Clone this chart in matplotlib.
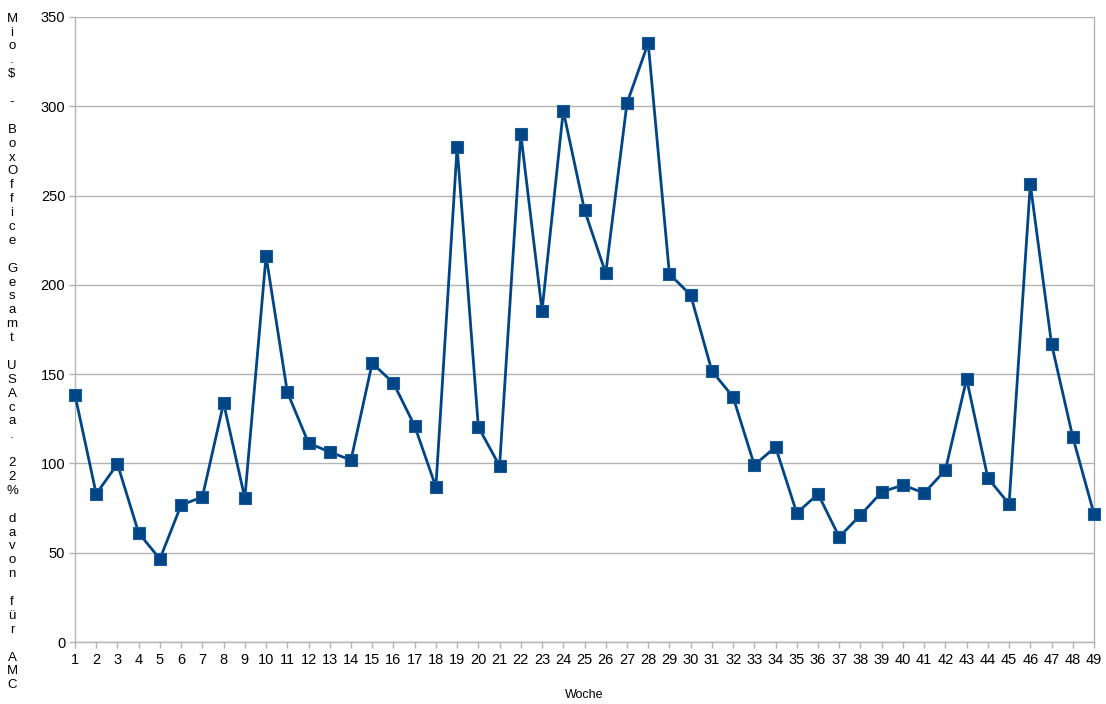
import matplotlib.pyplot as plt
import numpy as np

plt.rcParams['font.family'] = ['Liberation Sans', 'DejaVu Sans']

weeks = list(range(1, 50))
box_office = [138.3, 82.9, 99.7, 61.0, 46.5, 76.7, 81.2, 133.8, 80.6, 216.2,
              140.0, 111.4, 106.4, 101.9, 156.2, 145.0, 121.0, 86.8, 277.2, 120.4,
              98.6, 284.5, 185.5, 297.5, 241.9, 206.5, 301.7, 335.4, 206.1, 194.3,
              151.8, 137.2, 99.1, 109.2, 72.2, 82.9, 58.8, 71.1, 84.0, 87.9,
              83.4, 96.3, 147.3, 91.8, 77.3, 256.5, 166.9, 114.8, 71.7]
y_ticks = [0, 50, 100, 150, 200, 250, 300, 350]
y_label = "Mio.$ - BoxOffice Gesamt USAca. 22% davon für AMC"
x_label = "Woche"

line_col = '#004586'
grid_col = '#b3b3b3'

fig = plt.figure(figsize=(11.06, 7.04), dpi=100)
ax = fig.add_axes([75 / 1106, 1 - 642 / 704, (1094 - 75) / 1106, (642 - 17) / 704])

ax.plot(weeks, box_office, color=line_col, linewidth=2.0, marker='s',
        markersize=8.5, markerfacecolor=line_col, markeredgecolor='#1a5a96',
        markeredgewidth=0.8, zorder=3, clip_on=False)

ax.set_xlim(1, 49)
ax.set_ylim(0, 350)
ax.set_xticks(weeks)
ax.set_yticks(y_ticks)
ax.yaxis.grid(True, color=grid_col, linewidth=1.0)
ax.set_axisbelow(True)

for side in ['left', 'bottom', 'right']:
    ax.spines[side].set_color(grid_col)
    ax.spines[side].set_linewidth(1.0)
ax.spines['top'].set_visible(False)

ax.tick_params(axis='both', colors=grid_col, labelcolor='black', labelsize=10.5,
               length=4, width=1.0)
ax.tick_params(axis='x', pad=4)
ax.tick_params(axis='y', pad=3)

ax.set_xlabel(x_label, fontsize=9, labelpad=16)

fig.text(12 / 1106, 1 - 352 / 704, "\n".join(y_label), ha='center', va='center',
         fontsize=9.5, linespacing=1.21)

fig.savefig('out.png', dpi=100)
